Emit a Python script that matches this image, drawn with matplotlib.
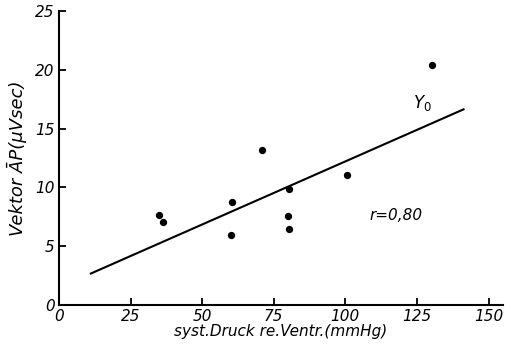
import matplotlib
matplotlib.use("Agg")
import matplotlib.pyplot as plt

# data
pressure = [34.9, 36.4, 60.3, 60.1, 70.9, 80.3, 80.1, 80.3, 100.4, 130.3]
vector_ap = [7.65, 7.03, 8.79, 5.92, 13.18, 9.86, 7.6, 6.46, 11.08, 20.4]
line_x = [10.8, 141.6]
line_y = [2.64, 16.67]
xticks = [0, 25, 50, 75, 100, 125, 150]
yticks = [0, 5, 10, 15, 20, 25]

FONT = ["Liberation Sans Narrow", "DejaVu Sans"]
plt.rcParams['font.family'] = FONT

fig = plt.figure(figsize=(5.05, 3.53), dpi=100)
ax = fig.add_axes([0.1168, 0.136, 0.879, 0.833])
ax.set_xlim(0, 155)
ax.set_ylim(0, 25)

ax.plot(line_x, line_y, color="black", lw=1.5, solid_capstyle="butt")
ax.scatter(pressure, vector_ap, s=18, color="black", zorder=3, clip_on=False)

for s in ("top", "right"):
    ax.spines[s].set_visible(False)
for s in ("left", "bottom"):
    ax.spines[s].set_linewidth(1.5)

ax.set_xticks(xticks)
ax.set_yticks(yticks)
ax.set_xticklabels([str(t) for t in xticks], fontstyle="italic", fontsize=11)
ax.set_yticklabels([str(t) for t in yticks], fontstyle="italic", fontsize=11)
ax.tick_params(direction="in", length=5, width=1.3, pad=3)

ax.set_xlabel("syst.Druck re.Ventr.(mmHg)", fontsize=11, fontstyle="italic", labelpad=0)
ax.set_ylabel("Vektor ĀP(µVsec)", fontsize=13, fontstyle="italic", labelpad=6)

ax.text(127, 16.3, "$Y_0$", fontsize=12, ha="center", va="bottom")
ax.text(108.5, 7.65, "r=0,80", fontsize=11, fontstyle="italic", ha="left", va="center")

fig.savefig("out.png", dpi=100)
